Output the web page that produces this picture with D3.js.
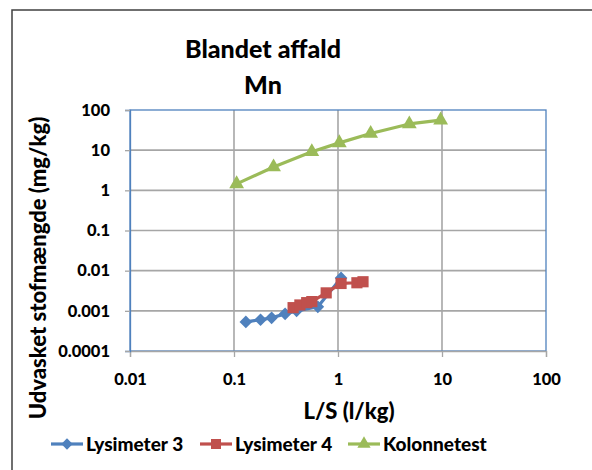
<!DOCTYPE html>
<html>
<head>
<meta charset="utf-8">
<script src="https://cdn.jsdelivr.net/npm/d3@7/dist/d3.min.js"></script>
<style>
  html, body { margin: 0; padding: 0; background: #fff; }
  svg { display: block; }
  text { font-family: Lato, "Open Sans", sans-serif; font-weight: 900; fill: #000; }
</style>
</head>
<body>
<svg id="chart" width="592" height="470"></svg>
<script>
// ---- data ----
const lys3X = [0.13, 0.18, 0.23, 0.31, 0.40, 0.64, 1.07];
const lys3Y = [0.00053, 0.0006, 0.00067, 0.00084, 0.001, 0.00126, 0.0066];
const lys4X = [0.37, 0.43, 0.50, 0.56, 0.77, 1.07, 1.52, 1.74];
const lys4Y = [0.0012, 0.0014, 0.0016, 0.0017, 0.0028, 0.0048, 0.0050, 0.0053];
const kolX = [0.106, 0.24, 0.56, 1.03, 2.06, 4.85, 9.7];
const kolY = [1.45, 3.8, 9.1, 15.2, 26, 45, 56];
const xTicks = [0.01, 0.1, 1, 10, 100];
const xTickLabels = ["0.01", "0.1", "1", "10", "100"];
const yTicks = [0.0001, 0.001, 0.01, 0.1, 1, 10, 100];
const yTickLabels = ["0.0001", "0.001", "0.01", "0.1", "1", "10", "100"];
const seriesNames = ["Lysimeter 3", "Lysimeter 4", "Kolonnetest"];
const titleLines = ["Blandet affald", "Mn"];
const xTitle = "L/S (l/kg)";
const yTitle = "Udvasket stofmængde (mg/kg)";

const colors = ["#4F81BD", "#C0504D", "#9BBB59"];
const series = [
  { name: seriesNames[0], xs: lys3X, ys: lys3Y, color: colors[0], marker: d3.symbolSquare, rot: 45, size: 80 },
  { name: seriesNames[1], xs: lys4X, ys: lys4Y, color: colors[1], marker: d3.symbolSquare, rot: 0, size: 125 },
  { name: seriesNames[2], xs: kolX, ys: kolY, color: colors[2], marker: d3.symbolTriangle, rot: 0, size: 95 }
];

const svg = d3.select("#chart");
svg.append("rect").attr("width", 592).attr("height", 470).attr("fill", "#fff");
// outer chart border (extends beyond view on right/bottom)
svg.append("rect").attr("x", 12).attr("y", 10).attr("width", 640).attr("height", 520)
  .attr("fill", "none").attr("stroke", "#404040").attr("stroke-width", 1.5);

const L = 130, R = 546, T = 110, B = 351;
const x = d3.scaleLog().domain([0.01, 100]).range([L, R]);
const y = d3.scaleLog().domain([0.0001, 100]).range([B, T]);

// grid
const g = svg.append("g");
g.selectAll(".vg").data(xTicks.slice(1, -1)).enter().append("line")
  .attr("x1", d => x(d)).attr("x2", d => x(d)).attr("y1", T).attr("y2", B)
  .attr("stroke", "#A6A6A6").attr("stroke-width", 1.6);
g.selectAll(".hg").data(yTicks.slice(1, -1)).enter().append("line")
  .attr("x1", L).attr("x2", R).attr("y1", d => y(d)).attr("y2", d => y(d))
  .attr("stroke", "#A6A6A6").attr("stroke-width", 1.6);

// plot border
svg.append("rect").attr("x", L).attr("y", T).attr("width", R - L).attr("height", B - T)
  .attr("fill", "none").attr("stroke", "#4F81BD").attr("stroke-width", 1.3);

// axes
const xAxis = svg.append("g").attr("transform", `translate(0,${B})`)
  .call(d3.axisBottom(x).tickValues(xTicks).tickSize(6).tickPadding(16)
    .tickFormat((d, i) => xTickLabels[i]));
const yAxis = svg.append("g").attr("transform", `translate(${L},0)`)
  .call(d3.axisLeft(y).tickValues(yTicks).tickSize(5).tickPadding(15)
    .tickFormat((d, i) => yTickLabels[i]));
[xAxis, yAxis].forEach(a => {
  a.select(".domain").attr("stroke", "#A6A6A6").attr("stroke-width", 1.3);
  a.selectAll(".tick line").attr("stroke", "#A6A6A6").attr("stroke-width", 1.3);
  a.selectAll(".tick text").style("font-size", "16.5px").style("font-family", "Lato").style("font-weight", "900").attr("fill", "#000");
});
yAxis.select(".domain").attr("stroke", "#4F81BD");

// series
const line = d3.line().x(d => x(d[0])).y(d => y(d[1]));
series.forEach(s => {
  const pts = s.xs.map((v, i) => [v, s.ys[i]]);
  svg.append("path").datum(pts).attr("d", line).attr("fill", "none")
    .attr("stroke", s.color).attr("stroke-width", 3.2).attr("stroke-linejoin", "round");
  svg.selectAll(null).data(pts).enter().append("path")
    .attr("d", d3.symbol().type(s.marker).size(s.size))
    .attr("transform", d => `translate(${x(d[0])},${y(d[1])}) rotate(${s.rot})`)
    .attr("fill", s.color);
});

// titles
svg.append("text").attr("x", 263).attr("y", 58).attr("text-anchor", "middle")
  .style("font-size", "25px").text(titleLines[0]);
svg.append("text").attr("x", 263).attr("y", 94).attr("text-anchor", "middle")
  .style("font-size", "25px").text(titleLines[1]);
svg.append("text").attr("x", 349).attr("y", 419).attr("text-anchor", "middle")
  .style("font-size", "22px").text(xTitle);
svg.append("text").attr("transform", "translate(46,268) rotate(-90)").attr("text-anchor", "middle")
  .style("font-size", "22px").text(yTitle);

// legend
const legX = [51, 200, 348];
series.forEach((s, i) => {
  const lg = svg.append("g").attr("transform", `translate(${legX[i]},444)`);
  lg.append("line").attr("x1", 0).attr("x2", 32).attr("y1", 0).attr("y2", 0)
    .attr("stroke", s.color).attr("stroke-width", 3.2);
  lg.append("path").attr("d", d3.symbol().type(s.marker).size(s.size * 0.8))
    .attr("transform", `translate(16,0) rotate(${s.rot})`).attr("fill", s.color);
  lg.append("text").attr("x", 35).attr("y", 7).style("font-size", "19px").text(s.name);
});
</script>
</body>
</html>
